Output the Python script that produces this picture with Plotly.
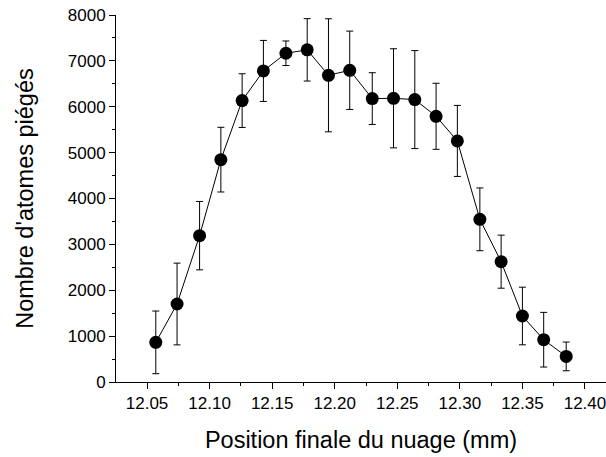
import plotly.graph_objects as go

# Final cloud position (mm) and number of trapped atoms
position_mm = [12.057, 12.074, 12.092, 12.109, 12.126, 12.143, 12.161, 12.178, 12.195, 12.212,
               12.230, 12.247, 12.264, 12.281, 12.298, 12.316, 12.333, 12.350, 12.367, 12.385]
n_atoms = [864, 1700, 3190, 4847, 6134, 6781, 7166, 7240, 6686, 6795,
           6178, 6184, 6156, 5792, 5255, 3546, 2623, 1439, 922, 558]
n_err = [683, 891, 745, 705, 585, 665, 268, 680, 1232, 854,
         564, 1080, 1068, 720, 774, 684, 578, 628, 596, 313]

x_ticks = [12.05, 12.10, 12.15, 12.20, 12.25, 12.30, 12.35, 12.40]
y_ticks = [0, 1000, 2000, 3000, 4000, 5000, 6000, 7000, 8000]

font_family = "Arial, Liberation Sans, sans-serif"

fig = go.Figure()

fig.add_trace(go.Scatter(
    x=position_mm, y=n_atoms, mode='lines+markers',
    line=dict(color='black', width=1),
    marker=dict(symbol='circle', color='black', size=13),
    error_y=dict(type='data', array=n_err, visible=True,
                 color='black', thickness=1, width=3.5),
    showlegend=False,
))

axis_common = dict(
    showline=True, linecolor='black', linewidth=1,
    ticks='outside', ticklen=6, tickwidth=1, tickcolor='black',
    showgrid=False, zeroline=False, mirror=False, automargin=False,
    ticklabeloverflow='allow',
    tickfont=dict(family=font_family, size=17, color='black'),
)

fig.update_layout(
    width=606, height=457,
    margin=dict(l=116, r=0, t=15, b=75),
    paper_bgcolor='white', plot_bgcolor='white',
    font=dict(family=font_family, color='black'),
    xaxis=dict(
        range=[12.0252, 12.4168],
        tickvals=x_ticks, ticktext=[f"{v:.2f}" for v in x_ticks],
        minor=dict(ticks='outside', ticklen=3, tickcolor='black', dtick=0.025, tick0=12.0, showgrid=False),
        title=dict(text="Position finale du nuage (mm)", standoff=19,
                   font=dict(family=font_family, size=23.5, color='black')),
        **axis_common,
    ),
    yaxis=dict(
        range=[0, 8000],
        tickvals=y_ticks,
        minor=dict(ticks='outside', ticklen=3, tickcolor='black', dtick=500, tick0=0, showgrid=False),
        title=dict(text="Nombre d'atomes piégés", standoff=27,
                   font=dict(family=font_family, size=23.5, color='black')),
        **axis_common,
    ),
)

# drop the page's default body margin so the figure sits at the window's corner
fig.write_html("out.html", config={"displayModeBar": False},
               post_script="document.body.style.margin='0';")
